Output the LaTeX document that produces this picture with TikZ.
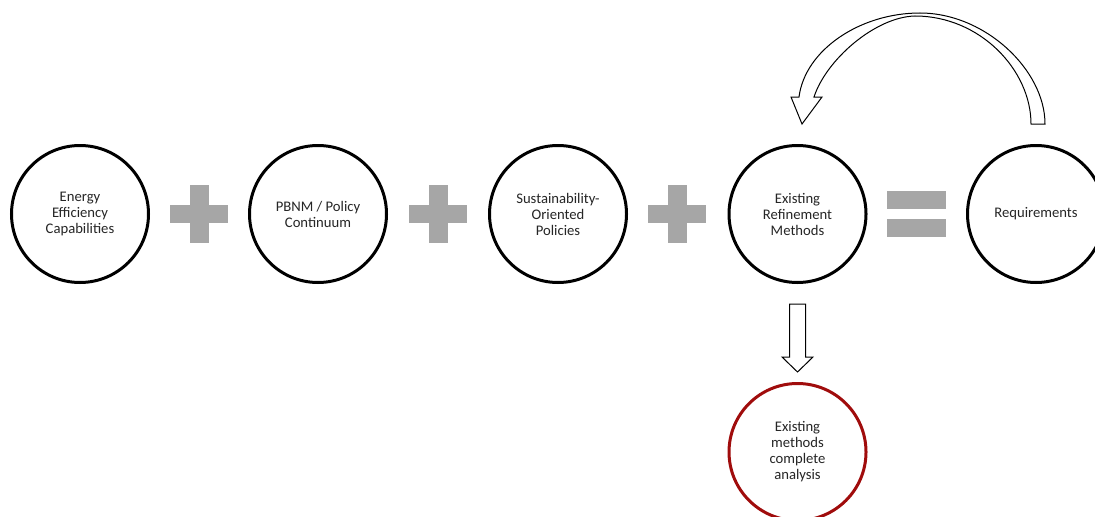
\documentclass[tikz,border=0pt]{standalone}
\usepackage{fontspec}
\setmainfont{Carlito}
\usetikzlibrary{calc}
\definecolor{txt}{RGB}{38,38,38}
\definecolor{opgray}{RGB}{166,166,166}
\definecolor{darkred}{RGB}{160,12,12}
\begin{document}
\begin{tikzpicture}[x=0.75pt,y=-0.75pt,
  bubble/.style={circle,draw=black,line width=2.25pt,fill=white,
    minimum size=102.75pt,inner sep=0pt,align=center,text=txt,
    font=\fontsize{11}{12}\selectfont},
  redbubble/.style={bubble,draw=darkred},
  blockarrow/.style={draw=black,line width=0.75pt,fill=white,line join=miter}]
\useasboundingbox (0,0) rectangle (1095,517);
\clip (0,0) rectangle (1095,517);

% main row of concepts
\node[bubble] (eec) at (80,214) {Energy\\Efficiency\\Capabilities};
\node[bubble] (pbnm) at (318,214) {PBNM / Policy\\Continuum};
\node[bubble] (sop) at (558,214) {Sustainability-\\Oriented\\Policies};
\node[bubble] (erm) at (797.5,214) {Existing\\Refinement\\Methods};
\node[bubble] (req) at (1036,214) {Requirements};
\node[redbubble] (emca) at (797.5,452) {Existing\\methods\\complete\\analysis};

% plus signs between the bubbles
\foreach \px in {199,438,677}{
  \fill[opgray] (\px-29,205) rectangle (\px+29,223);
  \fill[opgray] (\px-9.5,185) rectangle (\px+9.5,243);
}
% equals sign
\fill[opgray] (887,191) rectangle (946,209);
\fill[opgray] (887,219) rectangle (946,237);

% block arrow down to the analysis bubble
\coordinate (dtop) at ($(erm.south)+(0,20)$);
\coordinate (dtip) at ($(emca.north)+(0,-10)$);
\draw[blockarrow] ($(dtop)+(-8,0)$) -- ($(dtop)+(8,0)$)
  -- ($(dtip)+(8,-15)$) -- ($(dtip)+(15.5,-15)$) -- (dtip)
  -- ($(dtip)+(-15.5,-15)$) -- ($(dtip)+(-8,-15)$) -- cycle;

% curved feedback arrow from the requirements back to the refinement methods
\draw[blockarrow] (1045,124) .. controls (1045,70) and (985,13) .. (920,13)
  .. controls (860,13) and (805,50) .. (799,97)
  -- (791,97) -- (802,124) -- (822,97) -- (814,97)
  .. controls (826,60) and (875,17) .. (915,16)
  .. controls (980,16) and (1031,70) .. (1031,124) -- cycle;
\end{tikzpicture}
\end{document}
